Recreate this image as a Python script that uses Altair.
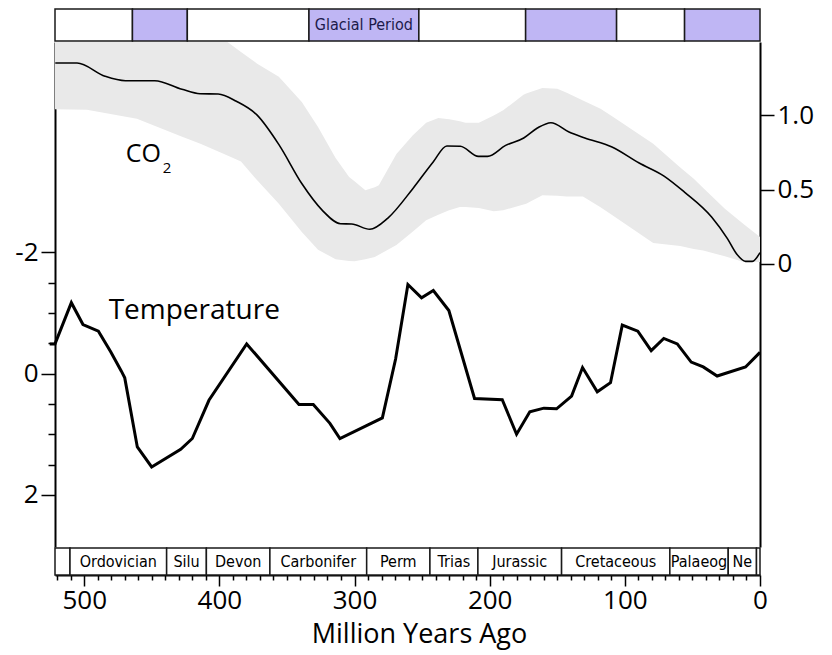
import altair as alt
import pandas as pd

X_MAX = 521.6
NARROW = "Liberation Sans Narrow, DejaVu Sans Condensed, sans-serif"
MAIN_FONT = "Open Sans"

# ---- CO2 central curve (relative units, right axis) ----
co2_age = [521.4, 505.3, 484.6, 469.5, 447.8, 427.7, 414.3, 400.9, 387.4, 372.4,
           355.6, 338.9, 323.8, 310.4, 302.1, 288.7, 275.3, 256.9, 241.8, 231.7,
           221.7, 208.3, 201.6, 188.2, 174.8, 164.7, 154.7, 141.3, 129.6, 109.5,
           89.4, 71.0, 55.9, 35.8, 24.1, 17.4, 10.7, 5.7, 0.0]
co2_val = [1.353, 1.353, 1.264, 1.234, 1.234, 1.176, 1.146, 1.144, 1.095, 1.005,
           0.798, 0.539, 0.360, 0.270, 0.268, 0.232, 0.308, 0.506, 0.686, 0.794,
           0.792, 0.724, 0.724, 0.798, 0.848, 0.915, 0.951, 0.888, 0.848, 0.787,
           0.679, 0.591, 0.483, 0.315, 0.169, 0.067, 0.016, 0.016, 0.075]

# ---- CO2 uncertainty band ----
band_age = [521.6, 498, 461, 428, 414, 394, 384, 372, 356, 339, 327, 314, 304, 300,
            292, 285, 282, 269, 257, 247, 238, 230, 222, 218, 208, 197, 190, 175,
            173, 161, 150, 143, 131, 118, 110, 79, 59, 49, 42, 26, 12, 0]
band_hi = [1.85, 1.82, 1.78, 1.72, 1.65, 1.495, 1.428, 1.349, 1.26, 1.09, 0.922, 0.713,
           0.585, 0.556, 0.495, 0.515, 0.529, 0.74, 0.864, 0.951, 0.982, 0.974, 0.96,
           0.951, 0.951, 1.0, 1.034, 1.14, 1.147, 1.185, 1.18, 1.152, 1.10, 1.045,
           0.997, 0.809, 0.649, 0.573, 0.51, 0.371, 0.267, 0.18]
band_lo = [1.041, 1.038, 0.978, 0.857, 0.809, 0.73, 0.69, 0.562, 0.405, 0.214, 0.095,
           0.03, 0.018, 0.016, 0.03, 0.045, 0.06, 0.126, 0.215, 0.293, 0.33, 0.36,
           0.382, 0.382, 0.376, 0.354, 0.36, 0.40, 0.405, 0.461, 0.458, 0.454, 0.454,
           0.38, 0.332, 0.14, 0.119, 0.10, 0.09, 0.05, 0.011, 0.011]

# ---- Temperature (left axis, inverted) ----
temp_age = [525.5, 521.6, 509.5, 500.9, 489.5, 480.4, 472.5, 470.0, 460.7, 450.1,
            428.6, 420.0, 407.7, 379.8, 341.1, 330.5, 318.2, 310.8, 279.4, 269.6,
            260.5, 250.4, 241.7, 230.2, 211.2, 190.7, 180.1, 170.3, 159.9, 150.5,
            139.4, 131.3, 120.4, 110.6, 101.9, 90.4, 80.5, 71.2, 61.2, 50.9,
            42.0, 31.7, 10.7, 0.0]
temp_val = [-0.49, -0.49, -1.17, -0.81, -0.70, -0.36, -0.04, 0.07, 1.21, 1.54,
            1.25, 1.07, 0.44, -0.49, 0.51, 0.51, 0.82, 1.07, 0.73, -0.24,
            -1.47, -1.25, -1.37, -1.04, 0.41, 0.43, 1.00, 0.63, 0.57, 0.58,
            0.37, -0.10, 0.30, 0.15, -0.80, -0.70, -0.38, -0.58, -0.49, -0.19,
            -0.11, 0.04, -0.11, -0.35]

# ---- Glacial band ----
glac_start = [521.6, 464.3, 423.7, 333.7, 252.4, 173.4, 106.1, 55.8]
glac_end = [464.3, 423.7, 333.7, 252.4, 173.4, 106.1, 55.8, 0.0]
glac_flag = ["no", "yes", "no", "yes", "no", "yes", "no", "yes"]
glac_label = ["", "", "", "Glacial Period", "", "", "", ""]

# ---- Geological periods ----
per_start = [521.6, 510.5, 439.0, 409.6, 362.6, 291.0, 244.2, 208.7, 146.8, 66.7, 23.5, 2.6]
per_end = [510.5, 439.0, 409.6, 362.6, 291.0, 244.2, 208.7, 146.8, 66.7, 23.5, 2.6, 0.0]
per_name = ["", "Ordovician", "Silu", "Devon", "Carbonifer", "Perm", "Trias",
            "Jurassic", "Cretaceous", "Palaeog", "Ne", ""]

# ---- axis settings ----
co2_ticks = [0, 0.5, 1.0, 1.5]
temp_ticks = [-2, -1.5, -1, -0.5, 0, 0.5, 1, 1.5, 2]
x_ticks = list(range(0, 530, 10))

W = 705
x_scale = alt.Scale(domain=[X_MAX, 0], nice=False, zero=False)
co2_scale = alt.Scale(domain=[-1.91, 1.495], nice=False, zero=False)
temp_scale = alt.Scale(domain=[-5.47, 2.86], reverse=True, nice=False, zero=False)

co2_df = pd.DataFrame({"age": co2_age, "co2": co2_val})
band_df = pd.DataFrame({"age": band_age, "hi": band_hi, "lo": band_lo})
temp_df = pd.DataFrame({"age": temp_age, "temp": temp_val})
glac_df = pd.DataFrame({"start": glac_start, "end": glac_end, "flag": glac_flag, "label": glac_label})
per_df = pd.DataFrame({"start": per_start, "end": per_end, "name": per_name})

co2_axis = alt.Axis(
    orient="right", values=co2_ticks, title=None, grid=False,
    labelExpr="datum.value == 0 ? '0' : (datum.value == 1.5 ? '' : format(datum.value, '.1f'))",
    tickSize=14, tickWidth=1.5, tickColor="black", domainColor="black", domainWidth=2,
    labelFont=MAIN_FONT, labelFontSize=26, labelColor="black", labelPadding=3,
)
temp_axis = alt.Axis(
    orient="left", values=temp_ticks, title=None, grid=False,
    labelExpr="datum.value % 2 === 0 ? '' + datum.value : ''",
    tickSize={"condition": {"test": "datum.value % 2 === 0", "value": 14}, "value": 7},
    tickWidth=1.5, tickColor="black", domainColor="black", domainWidth=2,
    labelFont=MAIN_FONT, labelFontSize=26, labelColor="black", labelPadding=3,
)
x_axis = alt.Axis(
    orient="bottom", values=x_ticks, title="Million Years Ago", grid=False,
    labelExpr="datum.value % 100 === 0 ? '' + datum.value : ''",
    tickSize={"condition": {"test": "datum.value % 100 === 0", "value": 11}, "value": 5},
    tickWidth=1.5, tickColor="black", domainColor="black", domainWidth=2,
    labelFont=MAIN_FONT, labelFontSize=26, labelColor="black", labelPadding=1,
    labelFlush=False, labelOverlap=False,
    titleFont=MAIN_FONT, titleFontSize=27, titleFontWeight="normal", titleColor="black",
    titlePadding=8, titleX=364, titleAlign="center", titleAnchor="start",
)

# ---- main panel ----
band = alt.Chart(band_df).mark_area(color="#e9e9e9", clip=True).encode(
    x=alt.X("age:Q", scale=x_scale, axis=None),
    y=alt.Y("hi:Q", scale=co2_scale, axis=co2_axis),
    y2="lo:Q",
)
co2_line = alt.Chart(co2_df).mark_line(color="black", strokeWidth=1.6, interpolate="monotone").encode(
    x=alt.X("age:Q", scale=x_scale, axis=None),
    y=alt.Y("co2:Q", scale=co2_scale, axis=co2_axis),
)
co_lbl = alt.Chart(pd.DataFrame({"age": [469.2], "co2": [0.686], "t": ["CO"]})).mark_text(
    font=MAIN_FONT, fontSize=25, align="left", baseline="alphabetic", color="black"
).encode(
    x=alt.X("age:Q", scale=x_scale, axis=None),
    y=alt.Y("co2:Q", scale=co2_scale, axis=co2_axis),
    text="t:N",
)
sub_lbl = alt.Chart(pd.DataFrame({"age": [441.9], "co2": [0.612], "t": ["2"]})).mark_text(
    font=MAIN_FONT, fontSize=15, align="left", baseline="alphabetic", color="black"
).encode(
    x=alt.X("age:Q", scale=x_scale, axis=None),
    y=alt.Y("co2:Q", scale=co2_scale, axis=co2_axis),
    text="t:N",
)
co2_layer = alt.layer(band, co2_line, co_lbl, sub_lbl)

temp_line = alt.Chart(temp_df).mark_line(color="black", strokeWidth=3).encode(
    x=alt.X("age:Q", scale=x_scale, axis=None),
    y=alt.Y("temp:Q", scale=temp_scale, axis=temp_axis),
)
temp_lbl = alt.Chart(pd.DataFrame({"age": [481.9], "temp": [-0.896], "t": ["Temperature"]})).mark_text(
    font=MAIN_FONT, fontSize=28, align="left", baseline="alphabetic", color="black"
).encode(
    x=alt.X("age:Q", scale=x_scale, axis=None),
    y=alt.Y("temp:Q", scale=temp_scale, axis=temp_axis),
    text="t:N",
)
temp_layer = alt.layer(temp_line, temp_lbl)

main = alt.layer(co2_layer, temp_layer).resolve_scale(y="independent").properties(width=W, height=505)

# ---- glacial band (top) ----
glac_rect = alt.Chart(glac_df).mark_rect(stroke="#1a1a1a", strokeWidth=1.5).encode(
    x=alt.X("start:Q", scale=x_scale, axis=None),
    x2="end:Q",
    color=alt.Color("flag:N", scale=alt.Scale(domain=["no", "yes"], range=["white", "#bfb6f4"]), legend=None),
)
glac_text = alt.Chart(glac_df).transform_calculate(mid="(datum.start + datum.end) / 2").mark_text(
    font=NARROW, fontSize=16, color="#1c1a4a", baseline="middle"
).encode(
    x=alt.X("mid:Q", scale=x_scale, axis=None),
    text="label:N",
)
top = alt.layer(glac_rect, glac_text).properties(width=W, height=32)

# ---- period band (bottom) ----
per_rect = alt.Chart(per_df).mark_rect(stroke="#1a1a1a", strokeWidth=1.5, fill="white").encode(
    x=alt.X("start:Q", scale=x_scale, axis=x_axis),
    x2="end:Q",
)
per_text = alt.Chart(per_df).transform_calculate(mid="(datum.start + datum.end) / 2").mark_text(
    font=NARROW, fontSize=16, color="black", baseline="middle"
).encode(
    x=alt.X("mid:Q", scale=x_scale, axis=x_axis),
    text="name:N",
)
bottom = alt.layer(per_rect, per_text).properties(width=W, height=27)

chart = alt.vconcat(top, main, bottom, spacing=0).properties(
    padding={"left": 6, "top": 0, "right": 0, "bottom": 4}
).configure_view(stroke=None)

chart.save("out.html", embed_options={"renderer": "svg", "actions": False})
